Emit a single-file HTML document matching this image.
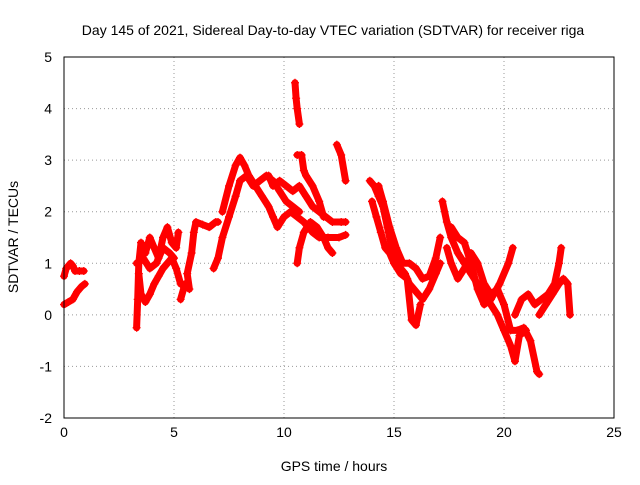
<!DOCTYPE html>
<html><head><meta charset="utf-8"><style>
body{margin:0;background:#fff}
svg text{font-family:"Liberation Sans",sans-serif;font-size:14px;fill:#000}
</style></head><body>
<svg id="c" width="640" height="480">
<text x="333" y="35" text-anchor="middle">Day 145 of 2021, Sidereal Day-to-day VTEC variation (SDTVAR) for receiver riga</text>
<text x="334" y="471" text-anchor="middle">GPS time / hours</text>
<text x="18" y="237" text-anchor="middle" transform="rotate(-90 18 237)">SDTVAR / TECUs</text>
<g id="grid"></g><g id="marks"></g>
<rect x="64" y="57" width="550" height="361" fill="none" stroke="#000"/>
</svg>
<script>
const xTicks=[0,5,10,15,20,25];
const yTicks=[-2,-1,0,1,2,3,4,5];
const tracks=[
[[0,0.75],[0.1,0.9],[0.2,0.95],[0.3,1.0],[0.4,0.95],[0.5,0.85],[0.7,0.85],[0.9,0.85]],
[[0,0.2],[0.2,0.25],[0.4,0.3],[0.6,0.45],[0.8,0.55],[0.95,0.6]],
[[3.3,-0.25],[3.35,0.3],[3.4,1.0],[3.5,1.4],[3.7,1.2],[3.9,1.5],[4.1,1.3],[4.3,1.1],[4.5,1.5],[4.7,1.7],[4.9,1.4],[5.1,1.3],[5.2,1.6]],
[[3.4,0.8],[3.5,0.4],[3.7,0.25],[3.9,0.4],[4.1,0.6],[4.3,0.75],[4.5,0.9],[4.7,1.0],[4.9,1.1],[5.1,0.9],[5.3,0.6]],
[[3.3,1.0],[3.6,1.1],[3.9,0.9],[4.2,1.0],[4.5,1.3],[4.8,1.2],[5.0,1.1]],
[[5.3,0.3],[5.5,0.6],[5.7,0.5],[5.6,0.8],[5.8,1.2],[5.9,1.6],[6.0,1.8],[6.3,1.75],[6.6,1.7],[6.9,1.8],[7.0,1.8]],
[[6.8,0.9],[7.0,1.1],[7.2,1.5],[7.5,1.9],[7.8,2.3],[8.0,2.6],[8.3,2.7],[8.6,2.5],[8.9,2.6],[9.2,2.7],[9.5,2.6],[9.8,2.4],[10.1,2.2],[10.4,2.1],[10.7,2.0]],
[[7.2,2.0],[7.5,2.5],[7.8,2.9],[8.0,3.05],[8.2,2.9],[8.4,2.7],[8.7,2.5],[9.0,2.3],[9.3,2.1],[9.5,1.9],[9.7,1.7],[10.0,1.9],[10.3,2.0],[10.6,1.9],[10.9,1.8],[11.3,1.6],[11.6,1.5],[12.0,1.5],[12.5,1.5],[12.8,1.55]],
[[9.3,2.7],[9.5,2.5],[9.8,2.6],[10.1,2.5],[10.4,2.4],[10.7,2.5],[11.0,2.3],[11.3,2.1],[11.6,2.0],[11.9,1.9],[12.2,1.8],[12.6,1.8],[12.8,1.8]],
[[10.5,4.5],[10.55,4.2],[10.6,4.0],[10.7,3.7]],
[[10.6,3.1],[10.8,3.1],[10.9,2.8],[11.0,2.7],[11.3,2.5],[11.6,2.2],[11.8,1.9]],
[[10.6,1.0],[10.7,1.3],[10.9,1.6],[11.2,1.8],[11.5,1.7],[11.8,1.5],[12.0,1.3],[12.2,1.2]],
[[12.4,3.3],[12.6,3.1],[12.8,2.6]],
[[13.9,2.6],[14.1,2.5],[14.3,2.3],[14.5,2.1],[14.7,1.7],[14.9,1.3],[15.1,1.1],[15.3,0.9],[15.5,0.8],[15.7,0.6],[15.9,0.5],[16.1,0.4],[16.3,0.3],[16.6,0.5],[16.9,0.8],[17.1,1.0]],
[[14.0,2.2],[14.2,1.9],[14.4,1.6],[14.6,1.3],[14.8,1.2],[15.0,1.0],[15.3,0.8],[15.6,0.7],[15.8,-0.1],[16.0,-0.2],[16.2,0.2]],
[[14.3,2.5],[14.5,2.2],[14.8,1.7],[15.1,1.3],[15.4,1.0],[15.7,1.0],[16.0,0.9],[16.3,0.7],[16.6,0.75],[16.9,1.1],[17.1,1.5]],
[[17.2,2.2],[17.4,1.8],[17.6,1.5],[17.9,1.2],[18.2,1.0],[18.5,0.8],[18.8,0.6],[19.1,0.4],[19.4,0.2],[19.7,0.0],[20.0,-0.3],[20.3,-0.6],[20.5,-0.9],[20.7,-0.4],[21.0,-0.3]],
[[17.4,1.3],[17.6,1.0],[17.9,0.7],[18.2,0.9],[18.5,1.2],[18.8,1.0],[19.1,0.6],[19.4,0.4],[19.7,0.5],[20.0,0.2],[20.3,-0.3],[20.6,-0.3],[20.9,-0.25],[21.2,-0.5],[21.5,-1.1],[21.6,-1.15]],
[[17.6,1.7],[17.9,1.5],[18.2,1.4],[18.5,1.0],[18.8,0.5],[19.1,0.2],[19.4,0.3],[19.8,0.6],[20.2,1.0],[20.4,1.3]],
[[20.5,0.0],[20.8,0.3],[21.1,0.4],[21.4,0.2],[21.7,0.3],[22.0,0.4],[22.3,0.6],[22.5,1.0],[22.6,1.3]],
[[21.6,0.0],[21.9,0.2],[22.2,0.4],[22.5,0.6],[22.7,0.7],[22.9,0.6],[23.0,0.0]]
];
const NS='http://www.w3.org/2000/svg';
const X0=64,X1=614,Y0=418,Y1=57;
const sx=v=>X0+(v-0)/25*(X1-X0);
const sy=v=>Y0-(v+2)/7*(Y0-Y1);
const grid=document.getElementById('grid'),marks=document.getElementById('marks'),svg=document.getElementById('c');
function mk(t,a,p){const e=document.createElementNS(NS,t);for(const k in a)e.setAttribute(k,a[k]);p.appendChild(e);return e;}
xTicks.forEach(t=>{const x=sx(t);
 if(t>0&&t<25){const g=mk('line',{x1:x,x2:x,y1:Y1,y2:Y0,stroke:'#999','stroke-dasharray':'1,3'},grid);
 
 }
 const l=mk('text',{x:x,y:Y0+19,'text-anchor':'middle'},svg);l.textContent=t;
 
 });
yTicks.forEach(t=>{const y=sy(t);
 if(t>-2&&t<5){const g=mk('line',{x1:X0,x2:X1,y1:y,y2:y,stroke:'#999','stroke-dasharray':'1,3'},grid);
 
 }
 const l=mk('text',{x:X0-12,y:y+5,'text-anchor':'end'},svg);l.textContent=t;
 
 });
tracks.forEach(tr=>{
 const pl=mk('polyline',{points:tr.map(p=>sx(p[0])+','+sy(p[1])).join(' '),fill:'none',stroke:'#f00','stroke-width':7,'stroke-linejoin':'round','stroke-linecap':'round'},marks);
 
 
 tr.forEach(p=>{const x=sx(p[0]),y=sy(p[1]);
  const c=mk('path',{d:`M${x-4},${y}h8M${x},${y-4}v8`,stroke:'#f00','stroke-width':1.2},marks);
  
  });
});
</script>
</body></html>
